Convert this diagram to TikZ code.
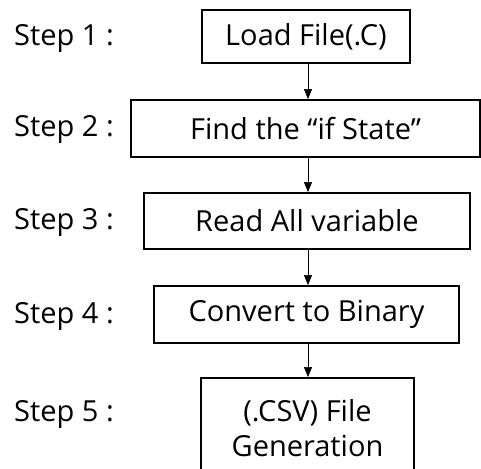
\documentclass[tikz,border=0pt]{standalone}
\usepackage{fontspec}
\setmainfont{Open Sans}
\usetikzlibrary{arrows.meta,positioning}

\begin{document}
\begin{tikzpicture}[
        x=1pt, y=-1pt,
        every node/.style={font=\fontsize{29}{35}\selectfont, align=center},
        stepbox/.style={draw, line width=1.8pt, inner sep=0pt},
        steplabel/.style={anchor=west, inner sep=0pt},
        flow/.style={-{Triangle[length=10pt,width=8pt]}, line width=0.6pt}
    ]
    \useasboundingbox (0,0) rectangle (481,468);

    % Boxes
    \node (load)[stepbox, minimum width=208pt, minimum height=53pt] at (306,36.5) {Load File(.C)};
    \node (find)[stepbox, minimum width=349pt, minimum height=57pt] at (305.5,128.5) {Find the ``if State''};
    \node (read)[stepbox, minimum width=326pt, minimum height=56pt] at (307,221) {Read All variable};
    \node (conv)[stepbox, minimum width=305pt, minimum height=57pt] at (306.5,314.5) {Convert to Binary};
    \node (gen)[stepbox, minimum width=213pt, minimum height=100pt] at (307.5,428) {(.CSV) File\\Generation};

    % Step labels
    \node (s1)[steplabel] at (14,38) {Step 1 :};
    \node (s2)[steplabel] at (14,129) {Step 2 :};
    \node (s3)[steplabel] at (14,222) {Step 3 :};
    \node (s4)[steplabel] at (14,316) {Step 4 :};
    \node (s5)[steplabel] at (14,414) {Step 5 :};

    % Edges
    \draw[flow] (load.south -| 308,0) -- (find.north -| 308,0);
    \draw[flow] (find.south -| 308,0) -- (read.north -| 308,0);
    \draw[flow] (read.south -| 308,0) -- (conv.north -| 308,0);
    \draw[flow] (conv.south -| 308,0) -- (gen.north -| 308,0);
\end{tikzpicture}
\end{document}
